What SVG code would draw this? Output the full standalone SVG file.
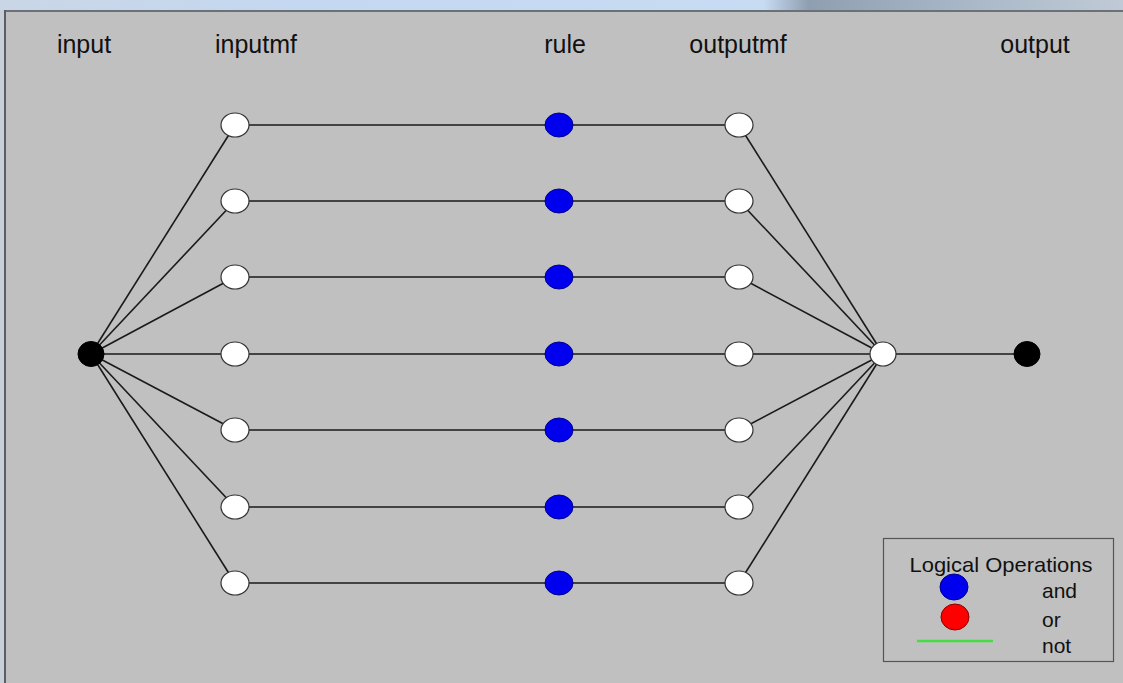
<svg xmlns="http://www.w3.org/2000/svg" width="1123" height="683" viewBox="0 0 1123 683">
<defs>
<linearGradient id="top" x1="0" y1="0" x2="1" y2="0">
<stop offset="0" stop-color="#c9d6e6"/>
<stop offset="0.3" stop-color="#c4d8f2"/>
<stop offset="0.68" stop-color="#c7dbf3"/>
<stop offset="0.72" stop-color="#8f9fb0"/>
<stop offset="0.85" stop-color="#a7b6c6"/>
<stop offset="1" stop-color="#c0cad6"/>
</linearGradient>
</defs>
<style>
.lbl{font-family:"Liberation Sans",Arial,sans-serif;font-size:25px;fill:#111;text-anchor:middle}
.leg{font-family:"Liberation Sans",Arial,sans-serif;font-size:21px;fill:#111}
.edge{stroke:#1a1a1a;stroke-width:1.6;fill:none}
.mf{fill:#ffffff;stroke:#333;stroke-width:1.2}
.rule{fill:#0000ee;stroke:#00008a;stroke-width:1}
.io{fill:#000;stroke:#000;stroke-width:1}
</style>
<rect x="0" y="0" width="1123" height="683" fill="#c0c0c0"/>
<rect x="0" y="0" width="1123" height="11" fill="url(#top)"/>
<rect x="0" y="10" width="1123" height="2" fill="#6b7178"/>
<rect x="0" y="10" width="4" height="673" fill="#c9cfd6"/>
<rect x="4" y="10" width="2" height="673" fill="#5a5f66"/>

<g id="labels">
<text class="lbl" x="84" y="53">input</text>
<text class="lbl" x="256" y="53">inputmf</text>
<text class="lbl" x="565" y="53">rule</text>
<text class="lbl" x="738" y="53">outputmf</text>
<text class="lbl" x="1035" y="53">output</text>
</g>

<g id="connectors">
<line class="edge" x1="91" y1="354" x2="235" y2="125"/>
<line class="edge" x1="91" y1="354" x2="235" y2="201"/>
<line class="edge" x1="91" y1="354" x2="235" y2="277"/>
<line class="edge" x1="91" y1="354" x2="235" y2="354"/>
<line class="edge" x1="91" y1="354" x2="235" y2="430"/>
<line class="edge" x1="91" y1="354" x2="235" y2="507"/>
<line class="edge" x1="91" y1="354" x2="235" y2="583"/>
<line class="edge" x1="235" y1="125" x2="739" y2="125"/>
<line class="edge" x1="235" y1="201" x2="739" y2="201"/>
<line class="edge" x1="235" y1="277" x2="739" y2="277"/>
<line class="edge" x1="235" y1="354" x2="739" y2="354"/>
<line class="edge" x1="235" y1="430" x2="739" y2="430"/>
<line class="edge" x1="235" y1="507" x2="739" y2="507"/>
<line class="edge" x1="235" y1="583" x2="739" y2="583"/>
<line class="edge" x1="739" y1="125" x2="883" y2="354"/>
<line class="edge" x1="739" y1="201" x2="883" y2="354"/>
<line class="edge" x1="739" y1="277" x2="883" y2="354"/>
<line class="edge" x1="739" y1="354" x2="883" y2="354"/>
<line class="edge" x1="739" y1="430" x2="883" y2="354"/>
<line class="edge" x1="739" y1="507" x2="883" y2="354"/>
<line class="edge" x1="739" y1="583" x2="883" y2="354"/>
<line class="edge" x1="883" y1="354" x2="1027" y2="354"/>
</g>

<g id="input"><ellipse class="io" cx="91" cy="354" rx="13" ry="12.5"/></g>
<g id="inputmf1"><ellipse class="mf" cx="235" cy="125" rx="14" ry="12"/></g>
<g id="inputmf2"><ellipse class="mf" cx="235" cy="201" rx="14" ry="12"/></g>
<g id="inputmf3"><ellipse class="mf" cx="235" cy="277" rx="14" ry="12"/></g>
<g id="inputmf4"><ellipse class="mf" cx="235" cy="354" rx="14" ry="12"/></g>
<g id="inputmf5"><ellipse class="mf" cx="235" cy="430" rx="14" ry="12"/></g>
<g id="inputmf6"><ellipse class="mf" cx="235" cy="507" rx="14" ry="12"/></g>
<g id="inputmf7"><ellipse class="mf" cx="235" cy="583" rx="14" ry="12"/></g>
<g id="rule1"><ellipse class="rule" cx="559" cy="125" rx="14" ry="12"/></g>
<g id="rule2"><ellipse class="rule" cx="559" cy="201" rx="14" ry="12"/></g>
<g id="rule3"><ellipse class="rule" cx="559" cy="277" rx="14" ry="12"/></g>
<g id="rule4"><ellipse class="rule" cx="559" cy="354" rx="14" ry="12"/></g>
<g id="rule5"><ellipse class="rule" cx="559" cy="430" rx="14" ry="12"/></g>
<g id="rule6"><ellipse class="rule" cx="559" cy="507" rx="14" ry="12"/></g>
<g id="rule7"><ellipse class="rule" cx="559" cy="583" rx="14" ry="12"/></g>
<g id="outputmf1"><ellipse class="mf" cx="739" cy="125" rx="14" ry="12"/></g>
<g id="outputmf2"><ellipse class="mf" cx="739" cy="201" rx="14" ry="12"/></g>
<g id="outputmf3"><ellipse class="mf" cx="739" cy="277" rx="14" ry="12"/></g>
<g id="outputmf4"><ellipse class="mf" cx="739" cy="354" rx="14" ry="12"/></g>
<g id="outputmf5"><ellipse class="mf" cx="739" cy="430" rx="14" ry="12"/></g>
<g id="outputmf6"><ellipse class="mf" cx="739" cy="507" rx="14" ry="12"/></g>
<g id="outputmf7"><ellipse class="mf" cx="739" cy="583" rx="14" ry="12"/></g>
<g id="aggregate"><ellipse class="mf" cx="883" cy="354" rx="13" ry="12"/></g>
<g id="output"><ellipse class="io" cx="1027" cy="354" rx="13" ry="12.5"/></g>

<g id="legend">
<rect x="883.5" y="538.5" width="230" height="123" fill="#c0c0c0" stroke="#555" stroke-width="1.2"/>
<text class="leg" x="1001" y="572" text-anchor="middle" textLength="183" lengthAdjust="spacingAndGlyphs">Logical Operations</text>
<ellipse cx="954" cy="587" rx="14" ry="13" fill="#0000ee" stroke="#00008a"/>
<text class="leg" x="1042" y="598">and</text>
<ellipse cx="955" cy="617" rx="14" ry="13" fill="#ff0000" stroke="#8a0000"/>
<text class="leg" x="1042" y="627">or</text>
<line x1="917" y1="641" x2="993" y2="641" stroke="#44dd44" stroke-width="2.5"/>
<text class="leg" x="1042" y="653">not</text>
</g>
</svg>
